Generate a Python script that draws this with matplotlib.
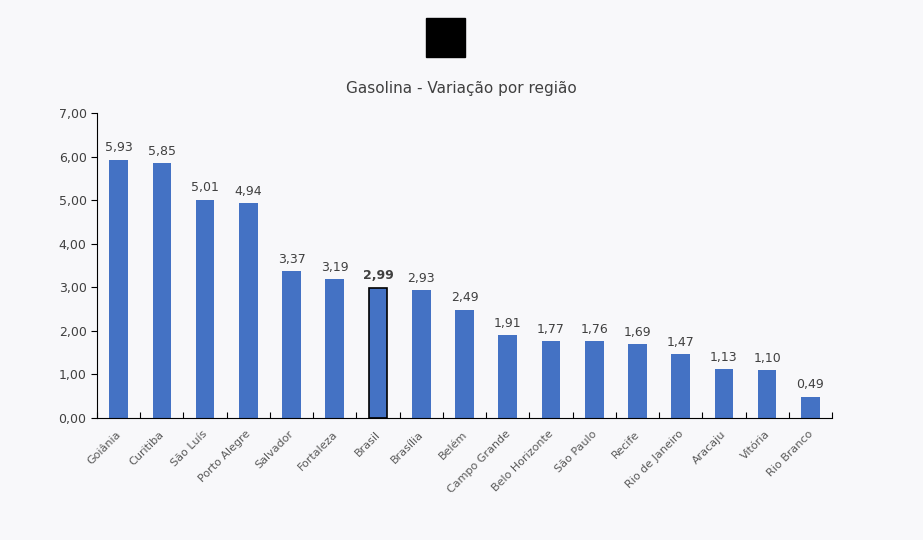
import matplotlib
matplotlib.use("Agg")
import matplotlib.pyplot as plt
from matplotlib.patches import Rectangle

categories = ["Goiânia","Curitiba","São Luís","Porto Alegre","Salvador","Fortaleza","Brasil","Brasília","Belém","Campo Grande","Belo Horizonte","São Paulo","Recife","Rio de Janeiro","Aracaju","Vitória","Rio Branco"]
values = [5.93,5.85,5.01,4.94,3.37,3.19,2.99,2.93,2.49,1.91,1.77,1.76,1.69,1.47,1.13,1.10,0.49]
highlight = "Brasil"
title = "Gasolina - Variação por região"

bg = "#f8f8fa"
fig = plt.figure(figsize=(9.23,5.40), dpi=100, facecolor=bg)
ax = fig.add_axes([97/923, 1-418/540, (832-97)/923, (418-113)/540], facecolor=bg)
x = range(len(categories))
bars = ax.bar(x, values, width=0.43, color="#4472c4")
for b, c, v in zip(bars, categories, values):
    hl = c == highlight
    if hl:
        b.set_edgecolor("black"); b.set_linewidth(1.2)
    ax.text(b.get_x()+b.get_width()/2, v+0.12, f"{v:.2f}".replace(".", ","), ha="center", va="bottom",
            fontsize=9, color="#404040", fontweight="bold" if hl else "normal")
ax.set_ylim(0,7)
ax.set_xlim(-0.5, len(categories)-0.5)
ax.set_yticks([i for i in range(8)])
ax.set_yticklabels([f"{i:.2f}".replace(".", ",") for i in range(8)], fontsize=9, color="#404040")
ax.set_xticks([i+0.5 for i in range(-1, len(categories))], minor=False)
ax.set_xticklabels([])
ax.tick_params(axis="x", length=4, direction="in")
for i, c in enumerate(categories):
    ax.text(i+0.1, -0.25, c, rotation=45, ha="right", va="top", fontsize=8, color="#595959")
for s in ["top","right"]:
    ax.spines[s].set_visible(False)
ax.tick_params(axis="y", length=4, direction="out")
fig.text(0.5, 1-88/540, title, ha="center", va="center", fontsize=11, color="#404040")
fig.patches.append(Rectangle((426/923, 1-57/540), 39/923, 39/540, transform=fig.transFigure, color="black"))
fig.savefig("out.png", dpi=100, facecolor=bg)
